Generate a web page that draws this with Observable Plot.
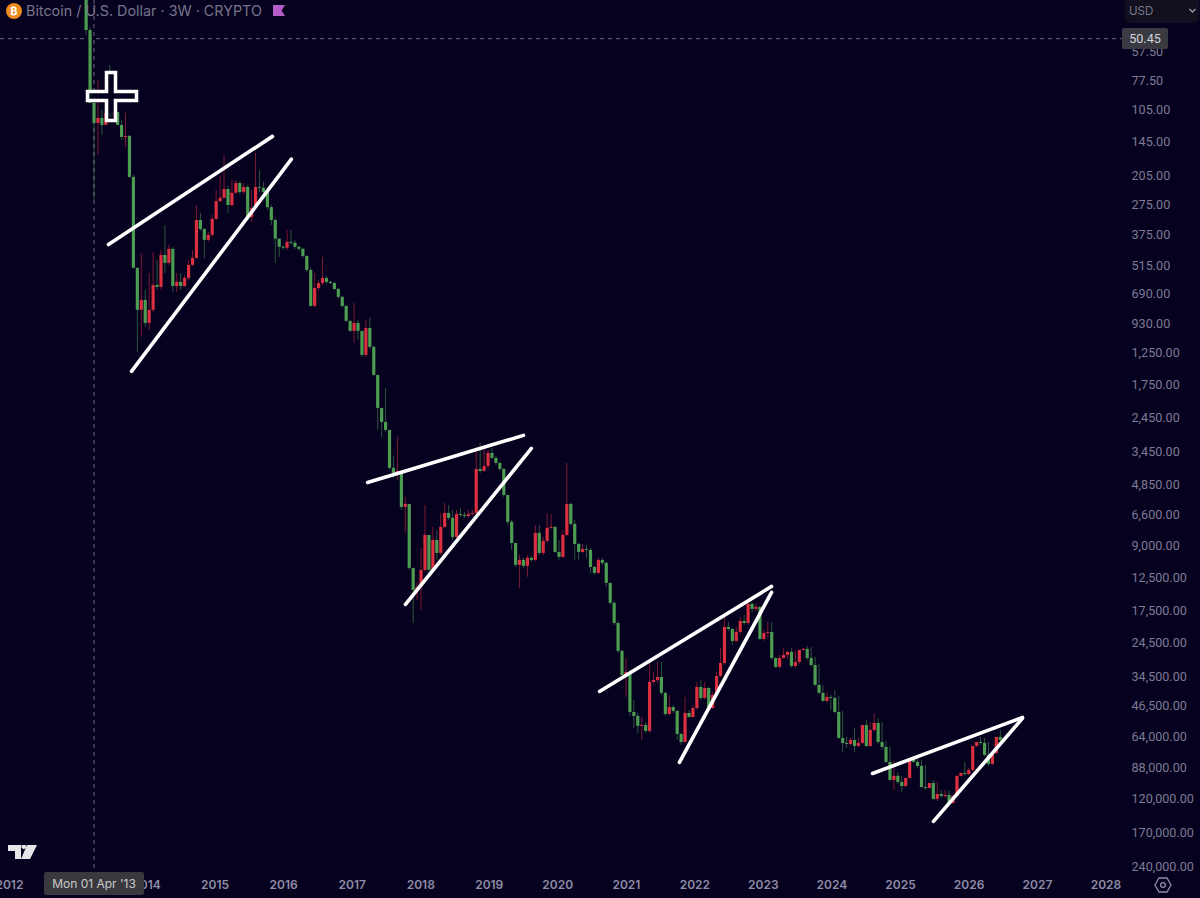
<!DOCTYPE html>
<html>
<head>
<meta charset="utf-8">
<script src="https://cdn.jsdelivr.net/npm/d3@7"></script>
<script src="https://cdn.jsdelivr.net/npm/@observablehq/plot@0.6"></script>
<style>
html,body{margin:0;padding:0;background:#05011f;width:1200px;height:898px;overflow:hidden}
#wrap{position:relative;width:1200px;height:898px;font-family:Inter,"Liberation Sans",sans-serif}
#wrap>svg,#wrap>div{position:absolute}
#title{left:26px;top:0;height:22px;line-height:22px;font-size:14.35px;color:#77768c;white-space:nowrap}
#btc{left:6px;top:3px;width:16px;height:16px;border-radius:50%;background:#ee8a1c;color:#fff;font-size:11px;line-height:16px;text-align:center;font-weight:700}
#usd{left:1125px;top:-4px;width:74px;height:27px;background:#12101f;border-radius:5px;color:#7a798c;font-size:11.5px;line-height:30px;text-indent:4px}
#tag{left:1122px;top:28px;width:46px;height:21px;background:#3a3a42;border-radius:2px;color:#d4d4d8;font-family:Roboto,sans-serif;font-size:12.6px;line-height:21px;text-align:center}
#date{left:44px;top:872px;width:100px;height:23px;background:#39393d;border-radius:2px;color:#c9c9cc;font-size:12px;line-height:23px;text-align:center;white-space:nowrap}
</style>
</head>
<body>
<div id="wrap"></div>
<script>
const firstCandle = "2013-02-18";
const candleDays = 21;
const firstOpen = 32.4;
const closes = [46.4,97.8,120,114,122.5,108.3,112.8,107.2,122.5,138.5,137,208.4,528,812,733,928,812,629,642,463,502,435,636,610,636,586,513,478,324,355,397,377,320,267,258,236,278,245,222,243,231,314,287,231,233,243,284,324,392,426,430,405,409,426,435,468,540,780,649,617,586,610,617,656,711,780,909,1007,928,1007,1287,977,1186,1580,2214,2555,2772,4089,4304,4217,6096,5911,11374,14250,13816,11610,8117,11610,8543,9758,7480,6481,6821,8285,6548,6615,6683,6548,6481,4132,4217,4007,3508,3692,3886,4132,5391,7106,8812,11030,10480,11145,10260,10480,7953,9758,8630,7556,7480,9660,10160,8117,5911,7254,8900,9660,9370,9463,11260,11970,10480,10800,13260,16270,19975,26590,34000,32970,49640,51700,57260,56700,60290,36520,35780,34720,40830,50660,47200,49130,62160,67470,50150,52230,47680,38440,43000,38840,47680,41710,34350,30080,20810,21240,24000,21890,19570,19975,16440,17300,16950,23520,22120,21890,28580,31320,28580,27700,26860,31000,29760,26320,26050,28580,30700,37660,40830,44350,42570,43000,49640,64740,68160,68860,66100,70300,68160,56700,70300,59670,55550,67470,71000,82780,99520,95400,101580,105900,97480,80270,82780,86240,106950,108000,102650,120860,114860,117250,116000,125890,117250,95400,92600,93600,89840,70300,67470,68160,76950,84480,75480,64100,66100];
const lows = [30.8,45,94.8,77.3,105,94.8,66.3,99.8,107.2,116.4,108.3,135.7,204,528,454,662,557,449,487,440,341,418,426,557,557,568,487,440,278,301,352,365,307,238,206,166,229,215,215,217,222,226,238,163,194,219,233,278,317,392,418,358,358,397,422,430,463,528,557,598,473,574,604,610,649,704,770,900,756,900,1007,900,881,1174,1580,2214,1804,2772,3618,2978,4174,5503,5972,11374,13125,9272,5972,8117,7480,7712,6481,5851,5972,6285,6285,6160,6415,6285,6285,3299,3167,3402,3402,3333,3618,3846,4089,5391,6962,8812,9960,10260,9960,10060,7327,7327,8285,6481,6548,7404,8543,7712,3886,5851,6962,8812,8900,8990,9272,11145,10260,10260,10700,13260,15940,19570,26320,28580,32300,43900,50150,52230,54990,30080,32970,29760,29760,40470,41710,46210,48630,61530,42570,48630,46210,36520,35780,36520,38440,40470,32970,25790,18400,19770,21030,20810,18770,18400,15780,16110,16270,16780,21450,19770,19770,28300,27700,25790,26590,25790,26590,29160,25790,25280,25540,28300,30400,37660,40470,41710,39630,42140,49130,64100,64740,58460,64740,64740,53870,54990,50150,52720,54990,66780,70300,81930,91700,95400,100550,94400,77870,77870,81100,85360,104700,99520,101580,110240,110240,110240,116000,113680,93600,82780,88040,88040,69570,64100,64740,67470,74740,73970,59670,59670];
const highs = [48.8,97.8,264,166,135.7,122.5,116.4,114,123,142.8,153.4,210.5,530,1248,1071,967,997,829,662,662,557,513,676,676,662,642,598,518,478,362,478,405,385,324,269,261,301,284,248,248,248,320,331,292,243,248,292,341,502,473,440,440,418,435,445,478,551,787,787,669,629,623,623,662,725,795,918,1018,1138,1104,1314,1314,1210,1596,2772,2978,2830,4174,4530,4624,6285,7953,11610,19975,15780,17480,11850,12220,11850,10480,9960,7556,6962,8543,8370,6751,6821,6821,6683,6548,4304,4260,4132,3730,3966,4217,5503,7327,9463,11260,13957,11374,12473,10700,10590,9960,9960,8812,7630,9758,10480,10260,8200,7404,10480,10480,9758,10260,11970,12220,12100,11030,13816,16600,20390,27140,35050,42570,51700,58460,61530,66100,61530,61530,37270,36900,41710,51700,51180,50150,66100,69570,68160,52720,52720,48630,43900,43450,48630,48150,42140,34720,30700,21670,25040,24250,22580,20390,20390,17840,17660,23760,24000,23280,29160,31640,31640,28870,28870,31640,31640,30400,26590,29160,31320,38050,41260,44810,45270,48630,50150,65430,74740,71740,69570,74740,71000,68860,71000,71000,60290,68860,73220,83630,100550,110240,103680,112520,106950,98520,83630,88040,108000,110240,109100,122100,123360,119650,119650,127200,127200,118440,96420,95400,94560,90760,71000,69570,77870,86240,85360,76200,68860];

const priceTicks = [57.5,77.5,105,145,205,275,375,515,690,930,1250,1750,2450,3450,4850,6600,9000,12500,17500,24500,34500,46500,64000,88000,120000,170000,240000];
const yearTicks = ["2012","2014","2015","2016","2017","2018","2019","2020","2021","2022","2023","2024","2025","2026","2027","2028"];
const hoverDate = "2013-04-01";
const hoverPrice = 50.45;
const trendDates = [["2013-06-17","2015-11-08"],["2013-10-18","2016-02-17"],["2017-03-29","2019-07-08"],["2017-10-17","2019-08-19"],["2020-08-16","2023-02-19"],["2021-10-16","2023-02-19"],["2024-08-10","2026-10-18"],["2025-07-01","2026-10-18"]];
const trendPrices = [[414,137],[1516,173],[4720,2918],[16440,3333],[40040,13675],[82780,14545],[92640,52240],[151300,52720]];

const GREEN="#4c9d52", RED="#dc3040", BG="#05011f", AXIS="#7d7b94";
const d = s => new Date(s+"T00:00:00Z");
const candles = closes.map((c,i)=>({
  date:d3.utcDay.offset(d(firstCandle),candleDays*i),
  open:i?closes[i-1]:firstOpen, close:c, low:lows[i], high:highs[i]
}));
const up = candles.filter(c=>c.close>=c.open), down = candles.filter(c=>c.close<c.open);
const trends = trendDates.flatMap((ds,k)=>ds.map((t,j)=>({line:k,date:d(t),price:trendPrices[k][j]})));
const fmt = d3.format(",.2f");

const chart = Plot.plot({
  width:1200,height:898,marginLeft:0,marginTop:0,marginRight:69,marginBottom:13,
  style:{background:BG,fontFamily:"Inter",fontSize:"12px",position:"absolute",left:0,top:0},
  x:{type:"utc",domain:[d("2013-04-01"),d("2028-01-01")],range:[93.5,1104.5],axis:null},
  y:{type:"log",domain:[57.5,240000],range:[51,866],axis:null},
  marks:[
    Plot.ruleY([hoverPrice],{stroke:"#6c6a84",strokeDasharray:"4 4",strokeWidth:1}),
    Plot.ruleX([d(hoverDate)],{stroke:"#6c6a84",strokeDasharray:"4 4",strokeWidth:1}),
    Plot.ruleX(up,{x:"date",y1:"low",y2:"high",stroke:GREEN,strokeOpacity:.55,strokeWidth:1}),
    Plot.ruleX(down,{x:"date",y1:"low",y2:"high",stroke:RED,strokeOpacity:.55,strokeWidth:1}),
    Plot.ruleX(up,{x:"date",y1:"open",y2:"close",stroke:GREEN,strokeWidth:3.2}),
    Plot.ruleX(down,{x:"date",y1:"open",y2:"close",stroke:RED,strokeWidth:3.2}),
    Plot.line(trends,{x:"date",y:"price",z:"line",stroke:"#fff",strokeWidth:3.6,strokeLinecap:"round"}),
    Plot.text(priceTicks,{y:v=>v,frameAnchor:"right",textAnchor:"start",text:fmt,fill:AXIS,fontFamily:"Roboto",fontSize:12.6}),
    Plot.text(yearTicks,{x:y=>d(y+"-01-01"),frameAnchor:"bottom",lineAnchor:"middle",dx:1,text:y=>y,fill:"#8f8da6",fontWeight:600,fontSize:12})
  ]
});
const wrap=document.getElementById("wrap");
wrap.appendChild(chart);
wrap.insertAdjacentHTML("beforeend",`
<div id="btc">₿</div>
<div id="title">Bitcoin / U.S. Dollar · 3W · CRYPTO</div>
<svg style="left:0;top:0" width="1200" height="898" viewBox="0 0 1200 898">
  <path d="M273 5H285L281.5 10.5L285 16H273Z" fill="#b45cc8"/>
  <path d="M106.5 72.5H115.5V91.5H136.5V100.5H115.5V120.5H106.5V100.5H87.5V91.5H106.5Z" fill="#05011f" fill-opacity=".85" stroke="#fff" stroke-width="3.5"/>
  <path d="M8 845H21V859H15V851H8Z M22 845H25.5A2.4 2.4 0 1 1 22 845Z M27 845H37L30 859H21Z" fill="#e6e6e8"/>
  <path d="M1159 878H1167L1171 885L1167 892H1159L1155 885Z" fill="none" stroke="#8f8da6" stroke-width="1.3"/>
  <circle cx="1163" cy="885" r="2.4" fill="none" stroke="#8f8da6" stroke-width="1.3"/>
</svg>
<div id="usd">USD</div>
<div id="tag">${hoverPrice.toFixed(2)}</div>
<div id="date">Mon 01 Apr '13</div>`);
wrap.insertAdjacentHTML("beforeend",`<svg style="left:1188px;top:7px" width="10" height="8"><path d="M1.5 2L4.5 5L7.5 2" fill="none" stroke="#9a99a8" stroke-width="1.3"/></svg>`);
</script>
</body>
</html>
